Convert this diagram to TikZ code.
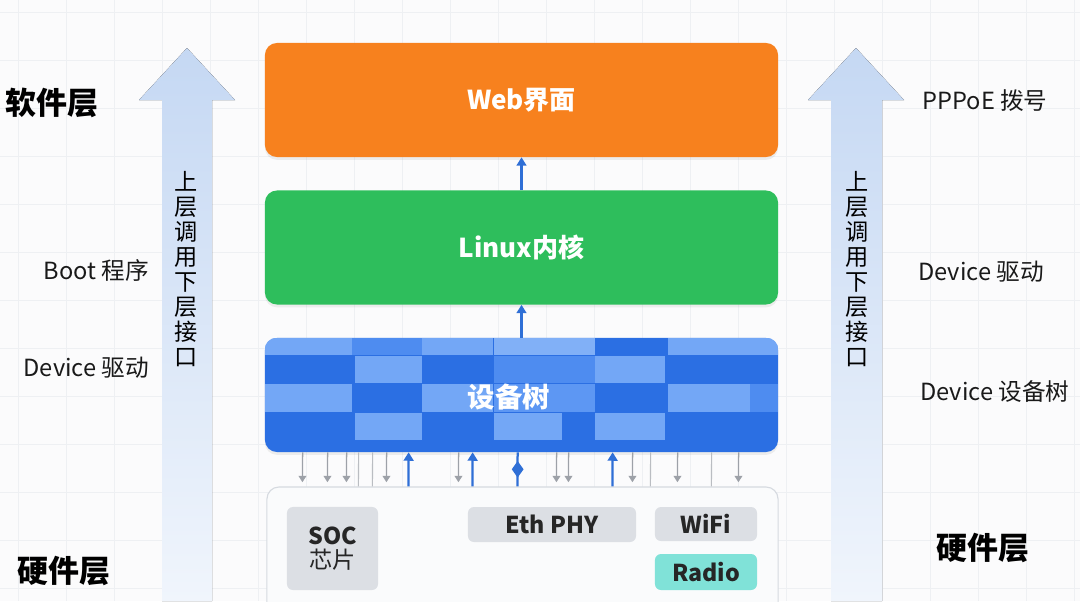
\documentclass[tikz,border=0pt]{standalone}
\usepackage{fontspec}
\setmainfont{Noto Sans CJK SC}
\usetikzlibrary{shapes.geometric,arrows.meta,calc,shadows}
\definecolor{bgc}{HTML}{FBFBFC}
\definecolor{gridc}{HTML}{EEF0F3}
\definecolor{webor}{HTML}{F7811E}
\definecolor{lxgreen}{HTML}{2EBE5C}
\definecolor{dtdark}{HTML}{2B6FE3}
\definecolor{dtmid}{HTML}{4E8CF0}
\definecolor{dtlight}{HTML}{73A7F6}
\definecolor{linkblue}{HTML}{2F6FD6}
\definecolor{linkgray}{HTML}{9DA1A8}
\definecolor{chipgray}{HTML}{DCDFE4}
\definecolor{radioteal}{HTML}{80E2D8}
\definecolor{hwfill}{HTML}{FAFBFC}
\definecolor{hwborder}{HTML}{D6DAE0}
\definecolor{arrtop}{HTML}{C5D8F3}
\definecolor{arrbot}{HTML}{F0F5FC}
\tikzset{
  layerbox/.style={rounded corners=0.3cm, minimum width=12.825cm, minimum height=2.85cm,
    text=white, font=\fontsize{18.5}{22}\selectfont\bfseries, inner sep=0pt,
    drop shadow={opacity=0.12, shadow xshift=0pt, shadow yshift=-2pt}},
  chip/.style={rounded corners=0.15cm, fill=chipgray, inner sep=0pt, text=black!85,
    font=\fontsize{16.5}{19}\selectfont\bfseries},
  uplink/.style={draw=linkblue, line width=1.6pt, -{Triangle[length=6pt,width=7pt]}},
  downlink/.style={draw=linkgray, line width=0.9pt, -{Triangle[length=4.5pt,width=5.5pt]}, shorten >=3pt},
  plainlink/.style={draw=linkgray!70, line width=0.8pt},
  bigarrow/.style={shading=axis, top color=arrtop, bottom color=arrbot, draw=none},
  vtext/.style={align=center, font=\fontsize{16.5}{17.8}\selectfont, text=black},
  sidelabel/.style={font=\fontsize{16.8}{19}\selectfont, text=black!90},
  layerlabel/.style={font=\fontsize{22}{26}\selectfont\bfseries, text=black},
}
\begin{document}
\begin{tikzpicture}[x=0.025cm,y=-0.025cm]
\useasboundingbox (0,0) rectangle (1080,601);
\clip (0,0) rectangle (1080,601);
\fill[bgc] (0,0) rectangle (1080,601);
\foreach \gx in {18,66,...,1080} \draw[gridc, line width=0.5pt] (\gx,0) -- (\gx,601);
\foreach \gy in {12,60,...,601} \draw[gridc, line width=0.5pt] (0,\gy) -- (1080,\gy);

% big side arrows
\fill[bigarrow] (162,601) -- (162,100) -- (139,100) -- (187,48) -- (235,100) -- (212,100) -- (212,601) -- cycle;
\fill[bigarrow] (831,601) -- (831,100) -- (808,100) -- (856,48) -- (904,100) -- (882,100) -- (882,601) -- cycle;
\node[vtext] (vl) at (186,269) {上\\层\\调\\用\\下\\层\\接\\口};
\node[vtext] (vr) at (857,269) {上\\层\\调\\用\\下\\层\\接\\口};

% layer boxes
\node[layerbox, fill=webor] (web) at (521.5,100) {Web界面};
\node[layerbox, fill=lxgreen] (lx) at (521.5,247.5) {Linux内核};
\node[layerbox, fill=dtdark, text opacity=0] (dt) at (521.5,395) {};
\begin{scope}
\clip[rounded corners=0.3cm] (dt.north west) rectangle (dt.south east);
% row 1
\fill[dtlight] (265,338) rectangle (352,355);
\fill[dtmid] (352,338) rectangle (422,355);
\fill[dtlight] (422,338) rectangle (493,355);
\fill[dtlight!90!white] (494,338) rectangle (595,355);
\fill[dtlight] (668,338) rectangle (778,355);
% row 2
\fill[dtlight] (355,356) rectangle (422,383);
\fill[dtmid] (494,356) rectangle (595,383);
\fill[dtlight] (595,356) rectangle (665,383);
% row 3
\fill[dtlight] (265,384) rectangle (352,412);
\fill[dtlight] (422,384) rectangle (493,412);
\fill[dtmid!60!dtlight] (494,384) rectangle (595,412);
\fill[dtlight] (668,384) rectangle (750,412);
\fill[dtmid] (750,384) rectangle (778,412);
% row 4
\fill[dtlight] (355,413) rectangle (422,440);
\fill[dtlight] (494,413) rectangle (562,440);
\fill[dtlight] (595,413) rectangle (665,440);
\end{scope}
\node[text=white, font=\fontsize{19.5}{22}\selectfont\bfseries] (dtl) at (509,397) {设备树};

% arrows between layers
\draw[uplink] (lx.north) -- (web.south);
\draw[uplink] (dt.north) -- (lx.south);

% hardware box
\node[rounded corners=0.3cm, fill=hwfill, draw=hwborder, line width=0.8pt,
      minimum width=12.775cm, minimum height=3.2cm, inner sep=0pt] (hw) at (522.5,551) {};

% links between device tree and hardware
\foreach \lx in {303,328,347,387,459,557,569,633,678,739}
  \draw[downlink] ($(dt.south west)+(\lx-265,0)$) -- ($(hw.north west)+(\lx-267,0)$);
\foreach \lx in {359,373,651,712}
  \draw[plainlink] ($(dt.south west)+(\lx-265,0)$) -- ($(hw.north west)+(\lx-267,0)$);
\foreach \lx in {409,473,613}
  \draw[uplink] ($(hw.north west)+(\lx-267,0)$) -- ($(dt.south west)+(\lx-265,0)$);
\draw[draw=linkblue, line width=1.6pt] ($(hw.north west)+(518-267,0)$) -- ($(dt.south west)+(518-265,0)$);
\node[diamond, fill=linkblue, minimum width=0.3cm, minimum height=0.42cm, inner sep=0pt] (dmd) at ($(dt.south west)+(518-265,17)$) {};

% chips
\node[chip, minimum width=2.275cm, minimum height=2.075cm, align=center] (soc) at (332.5,548.5)
  {SOC\\[-2pt]{\mdseries 芯片}};
\node[chip, minimum width=4.2cm, minimum height=0.875cm] (eth) at (552,524.5) {Eth PHY};
\node[chip, minimum width=2.55cm, minimum height=0.85cm] (wifi) at (706,524) {WiFi};
\node[chip, fill=radioteal, minimum width=2.55cm, minimum height=0.9cm] (radio) at (706,572) {Radio};

% side labels
\node[layerlabel] (swl) at (52,103) {软件层};
\node[layerlabel] (hwl) at (64,571) {硬件层};
\node[layerlabel] (hwr) at (983,548) {硬件层};
\node[sidelabel, anchor=east] (boot) at (154,270) {Boot 程序};
\node[sidelabel, anchor=east] (devl) at (154,368) {Device 驱动};
\node[sidelabel] (ppp) at (985,101) {PPPoE 拨号};
\node[sidelabel] (devr) at (981,272) {Device 驱动};
\node[sidelabel] (dtr) at (995,392) {Device 设备树};
\end{tikzpicture}
\end{document}
